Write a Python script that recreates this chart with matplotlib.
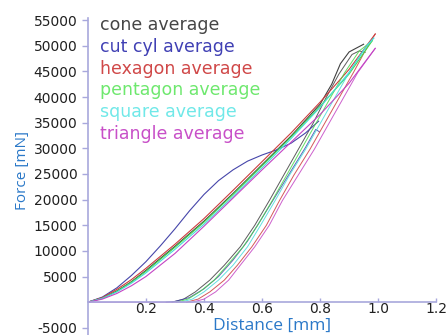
import numpy as np
import matplotlib
matplotlib.use('Agg')
import matplotlib.pyplot as plt

# loading / unloading averages, distance [mm] vs force [mN]
names = ["cone average", "cut cyl average", "hexagon average",
         "pentagon average", "square average", "triangle average"]
colors = ["#404040", "#4646aa", "#cc3c3c", "#48d848", "#48dcdc", "#c444c4"]
text_colors = ["#454545", "#4040b4", "#d04848", "#6ee86e", "#70e8e8", "#c850c8"]

cone_load_x = [0, 0.05, 0.1, 0.15, 0.2, 0.3, 0.4, 0.5, 0.6, 0.7, 0.8, 0.84, 0.87, 0.9, 0.93, 0.95]
cone_load_f = [0, 800, 2200, 4000, 6200, 10900, 15800, 21200, 26800, 32400, 38600, 42500, 46500, 48800, 49700, 50300]
cone_unload_x = [0.955, 0.935, 0.91, 0.865, 0.82, 0.775, 0.725, 0.675, 0.625, 0.575, 0.525, 0.47, 0.42, 0.37, 0.33, 0.29]
cone_unload_f = [48700, 49000, 48300, 44500, 39800, 34800, 29800, 24800, 19800, 15000, 10800, 7200, 4300, 2000, 600, 0]

cyl_load_x = [0, 0.05, 0.1, 0.15, 0.2, 0.25, 0.3, 0.35, 0.4, 0.45, 0.5, 0.55, 0.6, 0.65, 0.7, 0.75, 0.795]
cyl_load_f = [0, 1000, 2800, 5200, 7900, 11000, 14300, 17800, 21000, 23700, 25800, 27500, 28700, 29700, 31000, 33000, 35300]
cyl_unload_x = [0.798, 0.785, 0.75, 0.70, 0.65, 0.60, 0.55, 0.50, 0.45, 0.40, 0.35, 0.30, 0.27]
cyl_unload_f = [33200, 33700, 30200, 25600, 21000, 16400, 11900, 8200, 5000, 2600, 900, 150, 0]

hex_load_x = [0, 0.05, 0.1, 0.15, 0.2, 0.3, 0.4, 0.5, 0.6, 0.7, 0.8, 0.9, 0.99]
hex_load_f = [0, 900, 2500, 4400, 6600, 11300, 16300, 21800, 27400, 33000, 39000, 45400, 52300]
hex_unload_x = [0.99, 0.96, 0.915, 0.865, 0.815, 0.765, 0.71, 0.66, 0.615, 0.565, 0.515, 0.47, 0.42, 0.38, 0.34]
hex_unload_f = [52300, 49500, 44800, 39800, 34800, 29800, 24800, 19800, 15000, 10800, 7200, 4300, 2000, 600, 0]

pent_load_x = [0, 0.05, 0.1, 0.15, 0.2, 0.3, 0.4, 0.5, 0.6, 0.7, 0.8, 0.9, 0.98]
pent_load_f = [0, 750, 2100, 3900, 6000, 10700, 15600, 21000, 26600, 32200, 38200, 44500, 51000]
pent_unload_x = [0.98, 0.935, 0.885, 0.835, 0.785, 0.735, 0.685, 0.635, 0.585, 0.535, 0.48, 0.435, 0.385, 0.345, 0.305]
pent_unload_f = [51000, 49000, 44800, 39800, 34800, 29800, 24800, 19800, 15000, 10800, 7200, 4300, 2000, 600, 0]

sq_load_x = [0, 0.05, 0.1, 0.15, 0.2, 0.3, 0.4, 0.5, 0.6, 0.7, 0.8, 0.9, 0.965, 0.985]
sq_load_f = [0, 750, 2000, 3700, 5700, 10300, 15200, 20600, 26200, 31900, 38000, 44800, 50300, 51500]
sq_unload_x = [0.985, 0.95, 0.90, 0.85, 0.80, 0.75, 0.695, 0.645, 0.595, 0.55, 0.50, 0.45, 0.40, 0.36, 0.32]
sq_unload_f = [51500, 49200, 44800, 39800, 34800, 29800, 24800, 19800, 15000, 10800, 7200, 4300, 2000, 600, 0]

tri_load_x = [0, 0.05, 0.1, 0.15, 0.2, 0.3, 0.4, 0.5, 0.6, 0.7, 0.8, 0.9, 0.99]
tri_load_f = [0, 600, 1700, 3200, 5000, 9500, 14800, 20300, 25800, 31200, 36600, 42700, 49500]
tri_unload_x = [0.99, 0.93, 0.88, 0.83, 0.78, 0.725, 0.67, 0.625, 0.575, 0.525, 0.485, 0.44, 0.40, 0.36, 0.0]
tri_unload_f = [49500, 44800, 39800, 34800, 29800, 24800, 19800, 15000, 10800, 7200, 4300, 2000, 600, 0, 0]

curves = [
  (cone_load_x, cone_load_f, cone_unload_x, cone_unload_f),
  (cyl_load_x, cyl_load_f, cyl_unload_x, cyl_unload_f),
  (hex_load_x, hex_load_f, hex_unload_x, hex_unload_f),
  (pent_load_x, pent_load_f, pent_unload_x, pent_unload_f),
  (sq_load_x, sq_load_f, sq_unload_x, sq_unload_f),
  (tri_load_x, tri_load_f, tri_unload_x, tri_unload_f),
]

x_ticks = [0.2, 0.4, 0.6, 0.8, 1.0, 1.2]
y_ticks = [-5000, 5000, 10000, 15000, 20000, 25000, 30000, 35000, 40000, 45000, 50000, 55000]

axis_color = "#a8a8dc"
label_blue = "#2a78c8"

fig = plt.figure(figsize=(4.46, 3.35), dpi=100)
ax = fig.add_axes([0.197, 0.0, 0.781, 0.946])

handles = []
for i, (lx, lf, ux, uf) in enumerate(curves):
  h, = ax.plot(lx, lf, color=colors[i], lw=0.8, label=names[i])
  ax.plot(ux, uf, color=colors[i], lw=0.7, alpha=0.85)
  handles.append(h)

ax.set_xlim(0, 1.2)
ax.set_ylim(-6400, 55400)
ax.spines['top'].set_visible(False)
ax.spines['right'].set_visible(False)
ax.spines['bottom'].set_position(('data', 0))
ax.spines['left'].set_color(axis_color)
ax.spines['bottom'].set_color(axis_color)
ax.spines['left'].set_linewidth(1.2)
ax.spines['bottom'].set_linewidth(1.2)

ax.set_xticks(x_ticks)
ax.set_xticklabels(["%.1f" % v for v in x_ticks])
ax.set_yticks(y_ticks)
ax.set_yticklabels([str(v) for v in y_ticks])
ax.tick_params(axis='both', colors=axis_color, labelcolor='#202020', labelsize=10, length=4, width=1)
ax.tick_params(axis='x', direction='in', length=3, pad=0)

leg = ax.legend(handles=handles, loc='upper left', bbox_to_anchor=(0.0, 1.045), frameon=False,
                handlelength=0, handletextpad=0, labelspacing=0.22, fontsize=12.5, borderaxespad=0.3)
for t, c in zip(leg.get_texts(), text_colors):
  t.set_color(c)
for h in leg.legend_handles:
  h.set_visible(False)

fig.text(0.05, 0.49, "Force [mN]", rotation=90, color=label_blue, fontsize=11,
         family=['Open Sans', 'DejaVu Sans'], ha='center', va='center')
fig.text(0.61, 0.026, "Distance [mm]", color=label_blue, fontsize=12.5,
         family=['Open Sans', 'DejaVu Sans'], ha='center', va='center')

plt.savefig('out.png', dpi=100)
